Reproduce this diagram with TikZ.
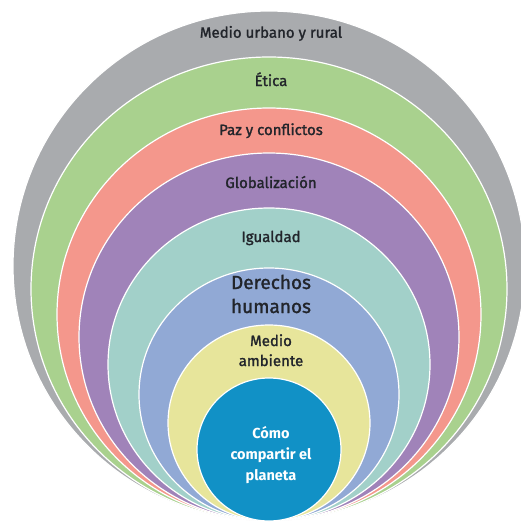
\documentclass[tikz,border=0pt]{standalone}
\usepackage{fontspec}
\setmainfont{Fira Sans}
\newfontfamily\medfont{Fira Sans}[FakeBold=1.5]
\definecolor{cgray}{HTML}{A9ABAE}
\definecolor{cgreen}{HTML}{A9D18E}
\definecolor{cred}{HTML}{F4978C}
\definecolor{cpurple}{HTML}{A083B9}
\definecolor{cteal}{HTML}{A2D0C9}
\definecolor{cblue}{HTML}{91A9D5}
\definecolor{cyellow}{HTML}{E7E59B}
\definecolor{ccore}{HTML}{1191C6}
\definecolor{ctext}{HTML}{22252B}
\begin{document}
\begin{tikzpicture}[x=1pt,y=-1pt]
\tikzset{
  ring/.style={draw=white, line width=1.2pt},
  lbl/.style={text=ctext, font=\medfont\fontsize{15}{20}\selectfont, align=center, inner sep=0pt, anchor=base},
  biglbl/.style={lbl, font=\medfont\fontsize{19}{24}\selectfont},
  corelbl/.style={lbl, text=white, font=\fontsize{14.5}{21}\selectfont\bfseries},
}
\useasboundingbox (0,0) rectangle (521,522);
\fill[white] (0,0) rectangle (521,522);
\begin{scope}
\clip (0,0) rectangle (521,522);
\foreach \ry/\rx/\col in {255/256/cgray, 232/238/cgreen, 206.5/212/cred, 184/190/cpurple, 156.5/161/cteal, 126.5/130/cblue, 98/101/cyellow, 71.5/72/ccore}
  \filldraw[ring, fill=\col] (269,{521-\ry}) ellipse [x radius=\rx, y radius=\ry];
\end{scope}
% anchor=base of a multi-line node is the baseline of its last line
\node[lbl] (urbano) at (271,37.7) {Medio urbano y rural};
\node[lbl] (etica) at (271,86) {Ética};
\node[lbl] (paz) at (271,135) {Paz y conflictos};
\node[lbl] (glob) at (271,188) {Globalización};
\node[lbl] (igual) at (271,242) {Igualdad};
\node[biglbl] (derechos) at (271,313) {Derechos\\humanos};
\node[lbl] (ambiente) at (271,366) {Medio\\ambiente};
\node[corelbl] (core) at (271,480) {Cómo\\compartir el\\planeta};
\end{tikzpicture}
\end{document}
